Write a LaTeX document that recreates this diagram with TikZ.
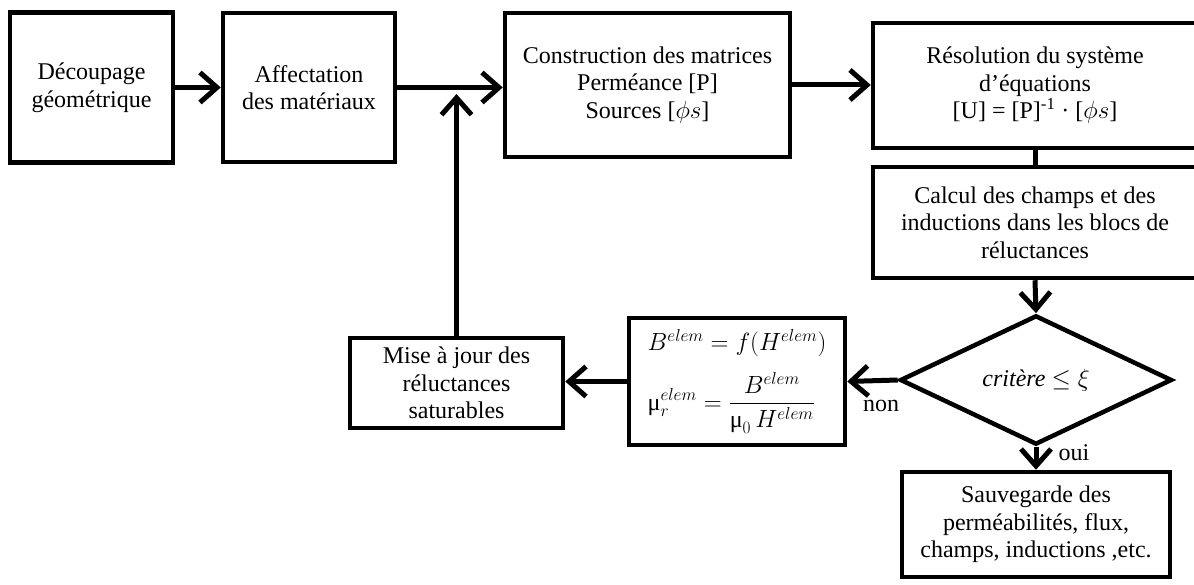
\documentclass[tikz,border=0pt]{standalone}
\usepackage{amsmath}
\usepackage{fontspec}
\setmainfont{Liberation Serif}
\usetikzlibrary{shapes.geometric,arrows.meta}
\tikzset{
  box/.style={draw, line width=4.5pt, inner sep=0pt, align=center, font=\fontsize{24}{27.5}\selectfont},
  cond/.style={draw, diamond, line width=4.5pt, inner sep=0pt, font=\fontsize{24}{27.5}\selectfont},
  arr/.style={line width=5pt, -{Straight Barb[length=17pt,width=30pt]}},
  link/.style={line width=5pt},
  lbl/.style={font=\fontsize{24}{27.5}\selectfont, inner sep=0pt}
}
\begin{document}
\begin{tikzpicture}[x=1pt,y=-1pt]
\fill[white] (0,0) rectangle (1194,585);
\clip (0,0) rectangle (1194,585);
\node[box, minimum width=163pt, minimum height=150pt] (b1) at (91.5,87.5) {Découpage\\géométrique};
\node[box, minimum width=172pt, minimum height=149pt] (b2) at (309,87.5) {Affectation\\des matériaux};
\node[box, minimum width=285pt, minimum height=144pt] (b3) at (647.5,85) {Construction des matrices\\Perméance [P]\\Sources [$\phi s$]};
\node[box, minimum width=324pt, minimum height=125pt] (b4) at (1035,85.5) {Résolution du système\\d’équations\\{[U] = [P]\textsuperscript{-1} · [$\phi s$]}};
\node[box, minimum width=324pt, minimum height=111pt] (b5) at (1035,222.5) {Calcul des champs et des\\inductions dans les blocs de\\réluctances};
\node[cond, minimum width=272pt, minimum height=116pt] (d) at (1036,380) {\textit{critère} $\leq \xi$};
\node[box, minimum width=216pt, minimum height=127pt, align=left] (f) at (737,381.5) {$B^{elem} = f(H^{elem})$\\[14pt]$\text{μ}_r^{elem} = \dfrac{B^{elem}}{\text{μ}_0\,H^{elem}}$};
\node[box, minimum width=213pt, minimum height=90pt] (m) at (456.5,383) {Mise à jour des\\réluctances\\saturables};
\node[box, minimum width=268pt, minimum height=105pt] (s) at (1036,524.5) {Sauvegarde des\\perméabilités, flux,\\champs, inductions ,etc.};
\coordinate (j) at (457,87);
\draw[arr] (b1.east) -- (b2.west);
\draw[arr] (b2.east) -- (b2.east -| b3.west);
\draw[arr, shorten >=7pt] (m.north) -- (m.north |- j);
\draw[arr] (b3.east) -- (b3.east -| b4.west);
\draw[link] (b4.south) -- (b5.north);
\draw[arr] (b5.south) -- (d.north);
\draw[arr] (d.west) -- (f.east);
\draw[arr] (f.west) -- (f.west -| m.east);
\draw[arr] (d.south) -- (s.north);
\node[lbl] (non) at (881,406) {non};
\node[lbl] (oui) at (1074,453) {oui};
\end{tikzpicture}
\end{document}
